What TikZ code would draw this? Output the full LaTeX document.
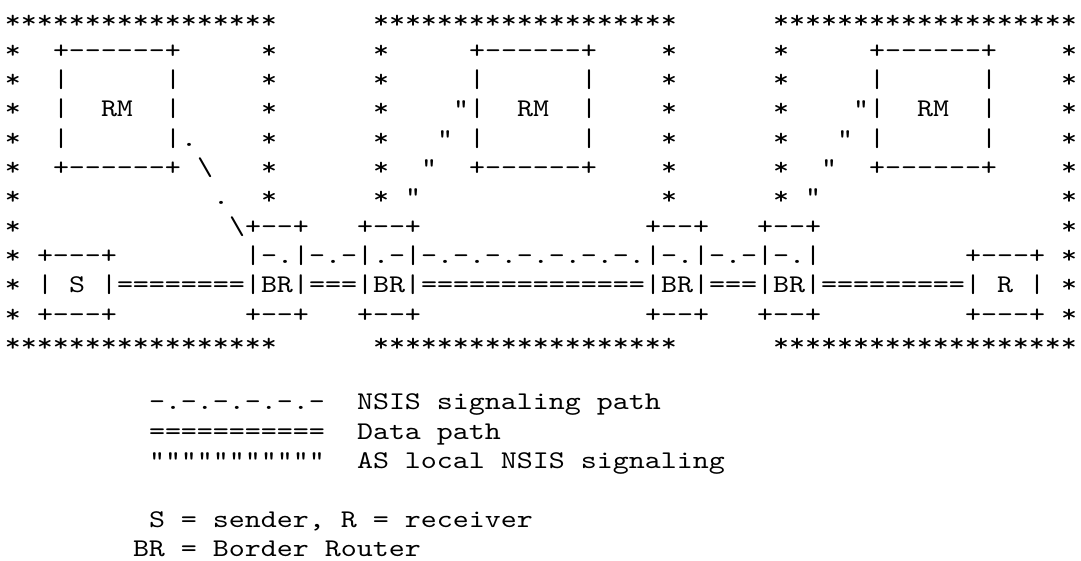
\documentclass[tikz,border=0pt]{standalone}
\usepackage{fontspec}
\setmonofont[FakeStretch=1.195]{lmmono10-regular.otf}
\usetikzlibrary{positioning}
\newcommand\asciifont{\ttfamily\fontsize{25.5}{29}\selectfont}
\tikzstyle{txt}=[anchor=base west, inner sep=0pt, outer sep=0pt, font=\asciifont]

\begin{document}
\begin{tikzpicture}[x=16pt, y=-29.33pt]
    \useasboundingbox (-5pt,28.7pt) rectangle (1076pt,-532.3pt);

    % AS borders
    \foreach \row/\nm in {0/top, 11/bot} {
        \node[txt] at (0,\row) (\nm-A) {*****************};
        \node[txt] at (23,\row) (\nm-B) {*******************};
        \node[txt] at (48,\row) (\nm-C) {*******************};
    }
    \foreach \row in {1,...,6}
        \foreach \col in {0,16,23,41,48,66}
            \node[txt] at (\col,\row) (s\row-\col) {*};
    \foreach \row in {7,...,10}
        \foreach \col in {0,66}
            \node[txt] at (\col,\row) (s\row-\col) {*};

    % RM boxes
    \foreach \col/\nm in {3/rm1, 29/rm2, 54/rm3} {
        \node[txt] at (\col,1) (\nm-t) {+------+};
        \node[txt] at (\col,2) (\nm-l2) {|};
        \node[txt] at (\col+7,2) (\nm-r2) {|};
        \node[txt] at (\col,3) (\nm-l3) {|};
        \node[txt] at (\col+3,3) (\nm) {RM};
        \node[txt] at (\col+7,3) (\nm-r3) {|};
        \node[txt] at (\col,4) (\nm-l4) {|};
        \node[txt] at (\col+7,4) (\nm-r4) {|};
        \node[txt] at (\col,5) (\nm-b) {+------+};
    }

    % signaling from RM to BR
    \node[txt] at (11,4) (d1) {.};
    \node[txt] at (12,5) (d2) {\textbackslash};
    \node[txt] at (13,6) (d3) {.};
    \node[txt] at (14,7) (d4) {\textbackslash};
    \foreach \row/\dd in {3/0, 4/1, 5/2, 6/3} {
        \node[txt] at (28-\dd,\row) (q2-\row) {"};
        \node[txt] at (53-\dd,\row) (q3-\row) {"};
    }

    % border routers
    \foreach \col/\nm in {15/br1, 22/br2, 40/br3, 47/br4} {
        \node[txt] at (\col,7) (\nm-t) {+--+};
        \node[txt] at (\col,8) (\nm-l) {|};
        \node[txt] at (\col+3,8) (\nm-r) {|};
        \node[txt] at (\col,9) (\nm) {|BR|};
        \node[txt] at (\col,10) (\nm-b) {+--+};
    }
    \node[txt] at (16,8) (sig1) {-.};
    \node[txt] at (19,8) (sig12) {-.-};
    \node[txt] at (23,8) (sig2) {.-};
    \node[txt] at (26,8) (sig23) {-.-.-.-.-.-.-.};
    \node[txt] at (41,8) (sig3) {-.};
    \node[txt] at (44,8) (sig34) {-.-};
    \node[txt] at (48,8) (sig4) {-.};

    % sender and receiver
    \node[txt] at (2,8) (S-t) {+---+};
    \node[txt] at (2,9) (S-l) {|};
    \node[txt] at (4,9) (S) {S};
    \node[txt] at (6,9) (S-r) {|};
    \node[txt] at (2,10) (S-b) {+---+};
    \node[txt] at (60,8) (R-t) {+---+};
    \node[txt] at (60,9) (R-l) {|};
    \node[txt] at (62,9) (R) {R};
    \node[txt] at (64,9) (R-r) {|};
    \node[txt] at (60,10) (R-b) {+---+};

    % data path
    \node[txt] at (7,9) (data1) {========};
    \node[txt] at (19,9) (data2) {===};
    \node[txt] at (26,9) (data3) {==============};
    \node[txt] at (44,9) (data4) {===};
    \node[txt] at (51,9) (data5) {=========};

    % legend
    \node[txt] at (9,13) (key1) {-.-.-.-.-.-};
    \node[txt] at (22,13) (lab1) {NSIS signaling path};
    \node[txt] at (9,14) (key2) {===========};
    \node[txt] at (22,14) (lab2) {Data path};
    \node[txt] at (9,15) (key3) {"""""""""""};
    \node[txt] at (22,15) (lab3) {AS local NSIS signaling};
    \node[txt] at (9,17) (lab4) {S = sender, R = receiver};
    \node[txt] at (8,18) (lab5) {BR = Border Router};
\end{tikzpicture}
\end{document}
